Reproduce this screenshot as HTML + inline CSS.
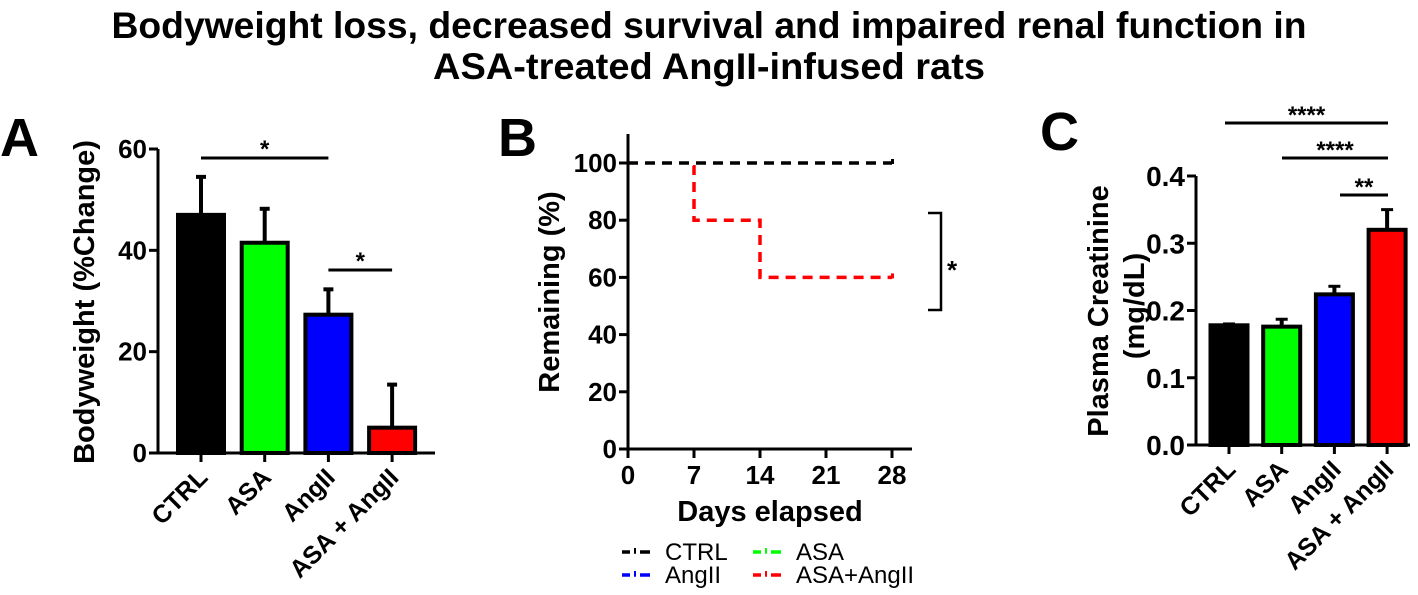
<!DOCTYPE html>
<html><head><meta charset="utf-8"><style>
html,body{margin:0;padding:0;background:#fff;}
svg{display:block;font-family:"Liberation Sans",Arial,sans-serif;}
</style></head><body>
<svg id="fig" width="1418" height="595" viewBox="0 0 1418 595" xmlns="http://www.w3.org/2000/svg">
<text x="709" y="38" text-anchor="middle" font-size="37" font-weight="bold" textLength="1195" lengthAdjust="spacingAndGlyphs">Bodyweight loss, decreased survival and impaired renal function in</text>
<text x="709" y="79" text-anchor="middle" font-size="37" font-weight="bold" textLength="552" lengthAdjust="spacingAndGlyphs">ASA-treated AngII-infused rats</text>
<text x="0" y="156" font-size="54" font-weight="bold">A</text>
<text x="498" y="156" font-size="54" font-weight="bold">B</text>
<text x="1040" y="150" font-size="54" font-weight="bold">C</text>
<g id="pa"></g>
<g id="pb"></g>
<g id="pc"></g>
</svg>
<script>
const categories = ["CTRL","ASA","AngII","ASA + AngII"];
const colors = ["#000000","#00ff00","#0000ff","#ff0000"];
const bwValues = [47, 41.5, 27.3, 5];
const bwErrors = [7.5, 6.7, 5, 8.5];
const bwTicks = [0,20,40,60];
const crValues = [0.178, 0.176, 0.224, 0.32];
const crErrors = [0.002, 0.011, 0.012, 0.03];
const crTicks = ["0.0","0.1","0.2","0.3","0.4"];
const survDays = [0,7,14,21,28];
const survTicks = [0,20,40,60,80,100];
const ctrlSteps = [[0,100],[28,100]];
const asaAngSteps = [[0,100],[7,100],[7,80],[14,80],[14,60],[28,60]];

const NS="http://www.w3.org/2000/svg";
function mk(parent, tag, attrs, text){
  const e=document.createElementNS(NS,tag);
  for(const k in attrs) e.setAttribute(k,attrs[k]);
  if(text!==undefined) e.textContent=text;
  parent.appendChild(e); return e;
}

// ---------- Panel A ----------
(function(){
  const g=document.getElementById('pa');
  const x0=158, x1=435, yTop=149, yBot=453, vmax=60;
  const ys=v=>yBot-(v/vmax)*(yBot-yTop);
  const xc=i=>201+i*63.7;
  const bw=46;
  bwValues.forEach((v,i)=>{
    const top=ys(v+bwErrors[i]);
    const eb=mk(g,'line',{x1:xc(i),x2:xc(i),y1:ys(v),y2:top,stroke:'#000','stroke-width':4});
    
    
    const cap=mk(g,'line',{x1:xc(i)-5,x2:xc(i)+5,y1:top,y2:top,stroke:'#000','stroke-width':4});
    
    
    const r=mk(g,'rect',{x:xc(i)-bw/2,y:ys(v),width:bw,height:yBot-ys(v),fill:colors[i],stroke:'#000','stroke-width':4});
    
    
    const t=mk(g,'line',{x1:xc(i),x2:xc(i),y1:yBot,y2:yBot+9,stroke:'#000','stroke-width':3});
    
    
    const lab=mk(g,'text',{x:0,y:0,'font-size':25,'font-weight':'bold','text-anchor':'end',transform:`translate(${xc(i)+8},${yBot+26}) rotate(-45)`},categories[i]);
    
    
  });
  const ax=mk(g,'path',{d:`M${x0},${yTop} V${yBot} H${x1}`,fill:'none',stroke:'#000','stroke-width':3});
  
  
  bwTicks.forEach(v=>{
    const t=mk(g,'line',{x1:x0-9,x2:x0,y1:ys(v),y2:ys(v),stroke:'#000','stroke-width':3});
    
    
    const l=mk(g,'text',{x:x0-11,y:ys(v)+9,'font-size':26,'font-weight':'bold','text-anchor':'end'},String(v));
    
    
  });
  const yt=mk(g,'text',{x:0,y:0,'font-size':29,'font-weight':'bold','text-anchor':'middle',transform:`translate(94,302) rotate(-90)`},'Bodyweight (%Change)');
  
  
  [[0,2,158],[2,3,270]].forEach(s=>{
    const a=xc(s[0]), b=xc(s[1]);
    const l=mk(g,'line',{x1:a,x2:b,y1:s[2],y2:s[2],stroke:'#000','stroke-width':3});
    
    
    const st=mk(g,'text',{x:(a+b)/2,y:s[2]-1,'font-size':24,'font-weight':'bold','text-anchor':'middle'},'*');
    
    
  });
})();

// ---------- Panel B ----------
(function(){
  const g=document.getElementById('pb');
  const x0=628, xEnd=912, yTop=134, yBot=449;
  const xs=d=>x0+d*(892-628)/28;
  const ys=v=>449-v*(449-163)/100;
  const ax=mk(g,'path',{d:`M${x0},${yTop} V${yBot} H${xEnd}`,fill:'none',stroke:'#000','stroke-width':3});
  
  
  survTicks.forEach(v=>{
    const t=mk(g,'line',{x1:x0-9,x2:x0,y1:ys(v),y2:ys(v),stroke:'#000','stroke-width':3});
    
    
    const l=mk(g,'text',{x:x0-11,y:ys(v)+9,'font-size':26,'font-weight':'bold','text-anchor':'end'},String(v));
    
    
  });
  survDays.forEach(d=>{
    const t=mk(g,'line',{x1:xs(d),x2:xs(d),y1:yBot,y2:yBot+9,stroke:'#000','stroke-width':3});
    
    
    const l=mk(g,'text',{x:xs(d),y:484,'font-size':26,'font-weight':'bold','text-anchor':'middle'},String(d));
    
    
  });
  const xt=mk(g,'text',{x:770,y:521,'font-size':29,'font-weight':'bold','text-anchor':'middle'},'Days elapsed');
  
  
  const yt=mk(g,'text',{x:0,y:0,'font-size':29,'font-weight':'bold','text-anchor':'middle',transform:`translate(559,292) rotate(-90)`},'Remaining (%)');
  
  
  function step(pts,col,name){
    const d=pts.map((p,i)=>(i?'L':'M')+xs(p[0])+','+ys(p[1])).join(' ');
    const p=mk(g,'path',{d:d,fill:'none',stroke:col,'stroke-width':3.5,'stroke-dasharray':'10,7'});
    
    
    const last=pts[pts.length-1];
    const m=mk(g,'rect',{x:xs(last[0])-1,y:ys(last[1])-4,width:3,height:5,fill:col});
    
    
  }
  step(asaAngSteps,'#ff0000','asa-angii-survival-line');
  const cover=mk(g,'rect',{x:x0+2,y:ys(100)-3,width:xs(7)-x0-3,height:6,fill:'#fff'});
  
  
  step(ctrlSteps,'#000','ctrl-survival-line');
  const br=mk(g,'path',{d:'M928,213 H941 V310 H928',fill:'none',stroke:'#000','stroke-width':2.5});
  
  
  const st=mk(g,'text',{x:952,y:279,'font-size':26,'font-weight':'bold','text-anchor':'middle'},'*');
  
  
  const leg=[["CTRL","#000",622,560],["ASA","#00ff00",753,560],["AngII","#0000ff",622,583],["ASA+AngII","#ff0000",753,583]];
  leg.forEach(L=>{
    const grp=mk(g,'g',{});
    
    
    mk(grp,'line',{x1:L[2],x2:L[2]+8,y1:L[3]-8,y2:L[3]-8,stroke:L[1],'stroke-width':3.5});
    mk(grp,'line',{x1:L[2]+12,x2:L[2]+14,y1:L[3]-8,y2:L[3]-8,stroke:L[1],'stroke-width':3.5});
    mk(grp,'rect',{x:L[2]+12,y:L[3]-12,width:2,height:4,fill:L[1]});
    mk(grp,'line',{x1:L[2]+18,x2:L[2]+28,y1:L[3]-8,y2:L[3]-8,stroke:L[1],'stroke-width':3.5});
    mk(grp,'text',{x:L[2]+43,y:L[3],'font-size':24},L[0]);
  });
})();

// ---------- Panel C ----------
(function(){
  const g=document.getElementById('pc');
  const x0=1196, x1=1410, yTop=176, yBot=445, vmax=0.4;
  const ys=v=>yBot-(v/vmax)*(yBot-yTop);
  const xc=i=>1229+i*52.7;
  const bw=37;
  crValues.forEach((v,i)=>{
    const top=ys(v+crErrors[i]);
    const eb=mk(g,'line',{x1:xc(i),x2:xc(i),y1:ys(v),y2:top,stroke:'#000','stroke-width':4});
    
    
    const cap=mk(g,'line',{x1:xc(i)-6,x2:xc(i)+6,y1:top,y2:top,stroke:'#000','stroke-width':3});
    
    
    const r=mk(g,'rect',{x:xc(i)-bw/2,y:ys(v),width:bw,height:yBot-ys(v),fill:colors[i],stroke:'#000','stroke-width':4});
    
    
    const t=mk(g,'line',{x1:xc(i),x2:xc(i),y1:yBot,y2:yBot+9,stroke:'#000','stroke-width':3});
    
    
    const lab=mk(g,'text',{x:0,y:0,'font-size':25,'font-weight':'bold','text-anchor':'end',transform:`translate(${xc(i)+8},${yBot+26}) rotate(-45)`},categories[i]);
    
    
  });
  const ax=mk(g,'path',{d:`M${x0},${yTop} V${yBot} H${x1}`,fill:'none',stroke:'#000','stroke-width':3});
  
  
  crTicks.forEach(s=>{
    const v=parseFloat(s);
    const t=mk(g,'line',{x1:x0-9,x2:x0,y1:ys(v),y2:ys(v),stroke:'#000','stroke-width':3});
    
    
    const l=mk(g,'text',{x:x0-11,y:ys(v)+10,'font-size':28,'font-weight':'bold','text-anchor':'end'},s);
    
    
  });
  const y1=mk(g,'text',{x:0,y:0,'font-size':29,'font-weight':'bold','text-anchor':'middle',transform:`translate(1108,311) rotate(-90)`},'Plasma Creatinine');
  
  
  const y2=mk(g,'text',{x:0,y:0,'font-size':29,'font-weight':'bold','text-anchor':'middle',transform:`translate(1144,306) rotate(-90)`},'(mg/dL)');
  
  
  [[1225,123,'****'],[1282,158,'****'],[1340,195,'**']].forEach(s=>{
    const l=mk(g,'line',{x1:s[0],x2:1388,y1:s[1],y2:s[1],stroke:'#000','stroke-width':3});
    
    
    const st=mk(g,'text',{x:(s[0]+1388)/2,y:s[1],'font-size':24,'font-weight':'bold','text-anchor':'middle'},s[2]);
    
    
  });
})();
</script>
</body></html>
